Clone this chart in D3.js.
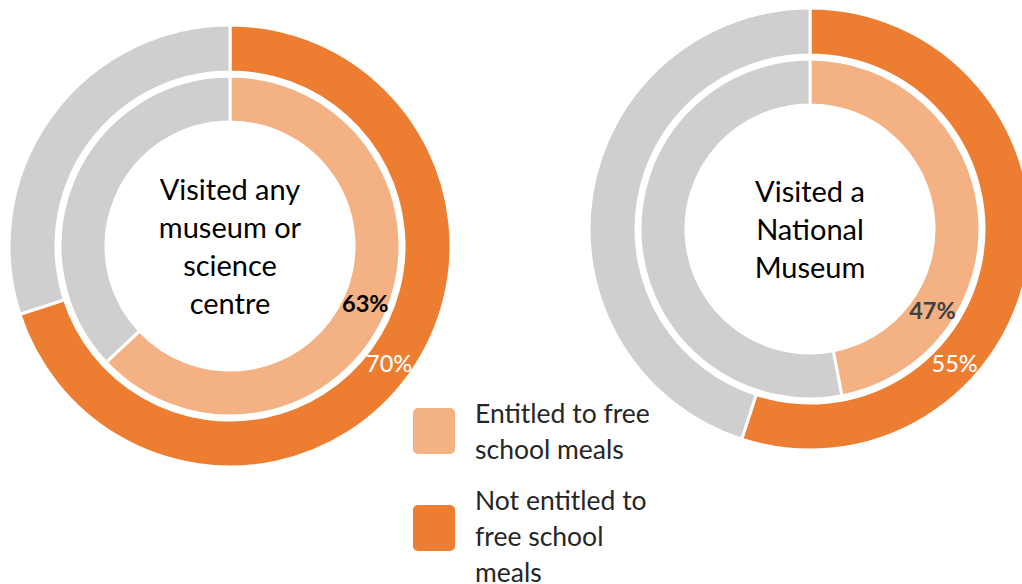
<!DOCTYPE html>
<html><head><meta charset="utf-8">
<script src="https://cdn.jsdelivr.net/npm/d3@7"></script>
<style>html,body{margin:0;padding:0;background:#fff;} svg{display:block;}</style>
</head><body>
<svg id="chart" width="1022" height="584"></svg>
<script>
// ---- data ----
const charts = ["Visited any museum or science centre", "Visited a National Museum"];
const titleLines = [["Visited any", "museum or", "science", "centre"], ["Visited a", "National", "Museum"]];
const entitledFSM = [63, 47];      // inner ring, %
const notEntitledFSM = [70, 55];   // outer ring, %
const legendLabels = [["Entitled to free", "school meals"], ["Not entitled to", "free school", "meals"]];

// ---- layout ----
const svg = d3.select("#chart");
const font = "Lato, 'Open Sans', sans-serif";
const colors = { light: "#F4B183", dark: "#ED7D31", grey: "#D0CECE" };
const centers = [[230, 246], [810, 229]];
const outerR = [174, 221], innerR = [124, 170];
const labelAngles = [[113, 126.3], [123.6, 132.9]]; // degrees clockwise from top (inner, outer)

const pie = d3.pie().sort(null).value(d => d);

charts.forEach((name, i) => {
  const g = svg.append("g").attr("transform", `translate(${centers[i][0]},${centers[i][1]})`);
  const rings = [
    { v: notEntitledFSM[i], r: outerR, c: colors.dark, lc: "#ffffff", bold: false, la: labelAngles[i][1] },
    { v: entitledFSM[i], r: innerR, c: colors.light, lc: i === 0 ? "#000000" : "#404040", bold: true, la: labelAngles[i][0] }
  ];
  rings.forEach(ring => {
    const arc = d3.arc().innerRadius(ring.r[0]).outerRadius(ring.r[1]);
    const arcs = pie([ring.v, 100 - ring.v]);
    g.selectAll(null).data(arcs).enter().append("path")
      .attr("d", arc)
      .attr("fill", (d, j) => j === 0 ? ring.c : colors.grey)
      .attr("stroke", "#fff").attr("stroke-width", 3);
    const a = ring.la * Math.PI / 180, rm = (ring.r[0] + ring.r[1]) / 2;
    g.append("text")
      .attr("x", rm * Math.sin(a)).attr("y", -rm * Math.cos(a))
      .attr("text-anchor", "middle").attr("dominant-baseline", "central")
      .attr("font-family", font).attr("font-size", 23.5)
      .attr("font-weight", ring.bold ? 700 : 500)
      .attr("fill", ring.lc)
      .text(ring.v + "%");
  });
  const lines = titleLines[i];
  const lh = 38.3;
  g.append("text").attr("font-family", font).attr("font-size", 29).attr("fill", "#000")
    .attr("text-anchor", "middle")
    .selectAll("tspan").data(lines).enter().append("tspan")
    .attr("x", 0)
    .attr("y", (d, k) => (k - (lines.length - 1) / 2) * lh + 11)
    .text(d => d);
});

// legend
const legend = svg.append("g");
const lgY = [408, 505];
const lgCols = [colors.light, colors.dark];
legendLabels.forEach((lines, i) => {
  legend.append("rect").attr("x", 413).attr("y", lgY[i]).attr("width", 42).attr("height", 46)
    .attr("rx", 5).attr("fill", lgCols[i]);
  const baseY = i === 0 ? 423 : 510;
  legend.append("text").attr("font-family", font).attr("font-size", 26.5).attr("fill", "#262626")
    .selectAll("tspan").data(lines).enter().append("tspan")
    .attr("x", 475).attr("y", (d, k) => baseY + k * 36)
    .text(d => d);
});
</script>
</body></html>
